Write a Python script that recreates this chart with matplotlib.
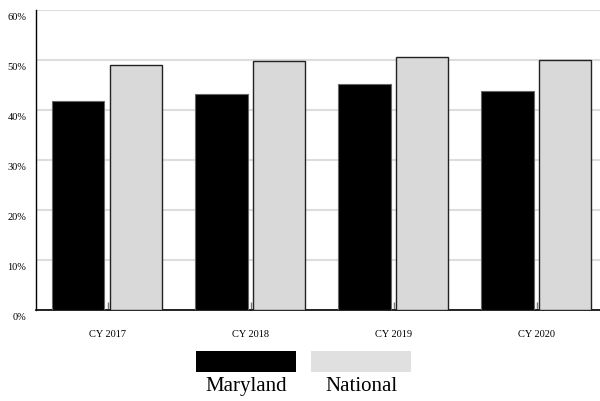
import matplotlib
matplotlib.use("Agg")
import matplotlib.pyplot as plt
import matplotlib.transforms as mtransforms
from matplotlib.patches import Rectangle
import numpy as np

categories = ["CY 2017", "CY 2018", "CY 2019", "CY 2020"]
maryland = [41.8, 43.2, 45.2, 43.8]
national = [49.0, 49.8, 50.6, 50.0]
yticks = [0, 10, 20, 30, 40, 50, 60]
series_names = ["Maryland", "National"]

plt.rcParams["font.family"] = ["Liberation Serif", "DejaVu Serif"]

fig = plt.figure(figsize=(6.0, 4.02), dpi=100)
W, H = 600, 402
ax = fig.add_axes([36 / W, 1 - 311 / H, (600 - 36) / W, 300 / H])

x = np.arange(len(categories))
bw = 0.364
ax.bar(x - 0.203, maryland, width=bw, color="black", edgecolor="#666666",
       linewidth=0.8, zorder=3)
ax.bar(x + 0.200, national, width=bw, color="#d9d9d9", edgecolor="#222222",
       linewidth=1.0, zorder=3)

ax.set_xlim(-0.5, 3.444)
ax.set_ylim(0, 60)
ax.set_yticks(yticks)
ax.set_yticklabels([f"{v}%" for v in yticks], fontsize=7.5)
ax.set_xticks(x)
ax.set_xticklabels(categories, fontsize=7.5)
ax.tick_params(axis="y", length=0, pad=7)
ax.tick_params(axis="x", direction="in", length=6, width=1, color="#777777", pad=14)
offset = mtransforms.ScaledTranslation(0, -6 / 100, fig.dpi_scale_trans)
for lab in ax.get_yticklabels():
    lab.set_transform(lab.get_transform() + offset)

ax.grid(axis="y", color="#dddddd", linewidth=1.5, zorder=0)
ax.set_axisbelow(True)
for s in ["top", "right"]:
    ax.spines[s].set_visible(False)
ax.spines["left"].set_color("black")
ax.spines["bottom"].set_color("black")
ax.spines["left"].set_linewidth(1.0)
ax.spines["bottom"].set_linewidth(1.2)

# legend drawn below the plot
colors = ["black", "#e0e0e0"]
for i, (name, c) in enumerate(zip(series_names, colors)):
    left = 196 + i * 115
    fig.patches.append(Rectangle((left / W, 1 - 373 / H), 100 / W, 21 / H,
                                 transform=fig.transFigure, facecolor=c,
                                 edgecolor="none"))
    fig.text((left + 50) / W, 1 - 387 / H, name, ha="center", va="center",
             fontsize=15)

fig.savefig("out.png", dpi=100)
